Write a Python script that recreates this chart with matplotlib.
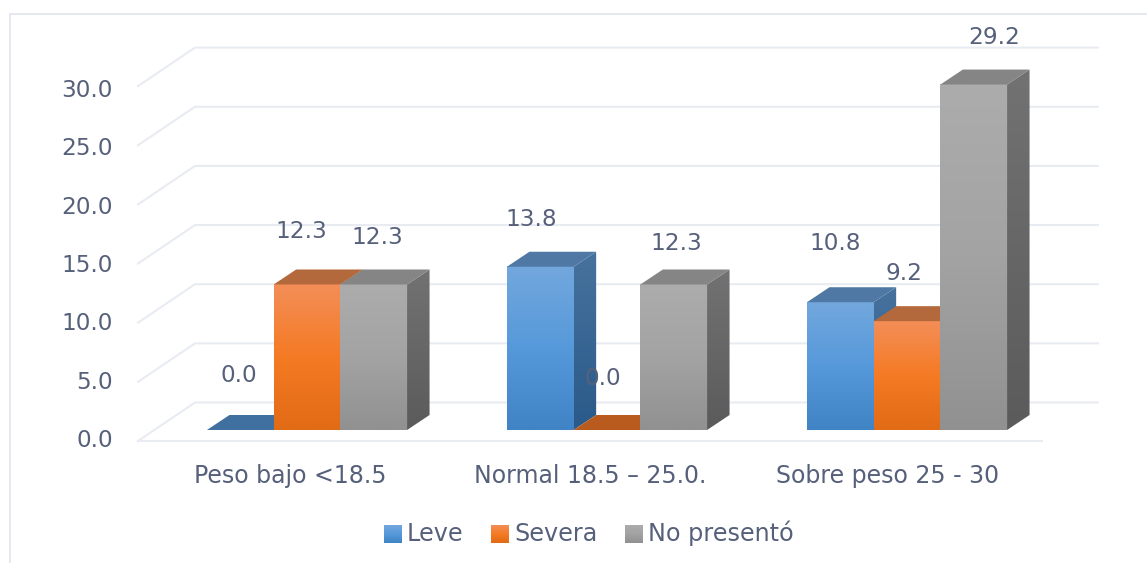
import numpy as np
import matplotlib
matplotlib.use('Agg')
import matplotlib.pyplot as plt
from matplotlib.colors import LinearSegmentedColormap
from matplotlib.patches import Polygon

plt.rcParams['font.family'] = ['DejaVu Sans']

categories = ['Peso bajo <18.5', 'Normal 18.5 – 25.0.', 'Sobre peso 25 - 30']
series_names = ['Leve', 'Severa', 'No presentó']
leve = [0.0, 13.8, 10.8]
severa = [12.3, 0.0, 9.2]
no_presento = [12.3, 12.3, 29.2]
y_ticks = [0, 5, 10, 15, 20, 25, 30]

# hand placed label offsets in pixels, one per bar
label_dx = [[-1, -9, -5], [-6, -4, -3], [4, 3, 20]]
label_dy = [[57, 50, 61], [55, 54, 50], [49, 43, 50]]

# front, side and top shades for each series
front_colors = [['#72a7dd', '#5699da', '#4184c6'],
                ['#f38e57', '#f57a24', '#e26b15'],
                ['#acacac', '#a3a3a3', '#919191']]
side_colors = [['#47729e', '#2a5a89'], ['#b3693d', '#b3591c'], ['#727272', '#5b5b5b']]
top_colors = ['#4f79a4', '#b4693d', '#858585']
zero_colors = ['#3f709f', '#b95b1e', '#858585']

text_color = '#56607a'
grid_color = '#e8ecf2'
font_size = 16.7
category_size = 17
legend_size = 17.2

W, H = 1147, 563
PX_PER_VALUE = 11.83
PX_PER_GROUP = 300.0
BASE_Y = 430.0
FIRST_X = 307.0
bar_w = 66.7 / PX_PER_GROUP
depth_x = 22.5 / PX_PER_GROUP
depth_y = 15.0 / PX_PER_VALUE


def xpx(p):
    return (p - FIRST_X) / PX_PER_GROUP


def ypx(p):
    return (BASE_Y - p) / PX_PER_VALUE


def gradient(colors):
    cmap = LinearSegmentedColormap.from_list('g', colors)
    return cmap(np.linspace(0, 1, 64)).reshape(64, 1, 4)


fig = plt.figure(figsize=(W / 100, H / 100), dpi=100)
ax = fig.add_axes([0, 0, 1, 1])
ax.set_axis_off()
ax.set_autoscale_on(False)
ax.set_xlim(xpx(0), xpx(W))
ax.set_ylim(ypx(H), ypx(0))

# outer frame
ax.plot([xpx(10), xpx(10)], [ypx(14), ypx(H)], color='#e3e7ee', lw=1.3, zorder=1)
ax.plot([xpx(10), xpx(W)], [ypx(14), ypx(14)], color='#e3e7ee', lw=1.3, zorder=1)

# back wall lines with the short diagonal on the left
back = ypx(402.5)
front = ypx(441)
for t in y_ticks:
    ax.plot([xpx(138), xpx(195), xpx(1098)], [t + front, t + back, t + back],
            color=grid_color, lw=1.5, zorder=1, solid_joinstyle='miter')
    # tick labels sit a touch tighter than the gridlines
    ax.text(xpx(113), t * 0.986 + ypx(438), f'{t:.1f}', ha='right', va='center_baseline',
            color=text_color, fontsize=font_size)
ax.plot([xpx(138), xpx(1042)], [front, front], color=grid_color, lw=1.5, zorder=1)

# bars, left to right so each one covers the side of the previous
series = [leve, severa, no_presento]
z = 2
for g in range(len(categories)):
    for s, vals in enumerate(series):
        v = vals[g]
        x0 = g + (s - 1.5) * bar_w
        x1 = x0 + bar_w
        if v > 0:
            ax.imshow(gradient(front_colors[s]), extent=(x0, x1, 0, v), origin='upper',
                      aspect='auto', zorder=z, interpolation='bilinear')
            side = Polygon([(x1, 0), (x1 + depth_x, depth_y), (x1 + depth_x, v + depth_y), (x1, v)],
                           transform=ax.transData, facecolor='none', edgecolor='none')
            ax.add_patch(side)
            im = ax.imshow(gradient(side_colors[s]), extent=(x1, x1 + depth_x, 0, v + depth_y),
                           origin='upper', aspect='auto', zorder=z, interpolation='bilinear')
            im.set_clip_path(side)
            top_color = top_colors[s]
        else:
            top_color = zero_colors[s]
        ax.add_patch(Polygon([(x0, v), (x1, v), (x1 + depth_x, v + depth_y), (x0 + depth_x, v + depth_y)],
                             facecolor=top_color, edgecolor='none', zorder=z))
        z += 1

# value labels
for s, vals in enumerate(series):
    for g, v in enumerate(vals):
        cx = g + (s - 1) * bar_w
        ax.annotate(f'{v:.1f}', xy=(cx, v), xytext=(label_dx[s][g], label_dy[s][g]),
                    textcoords='offset pixels', ha='center', va='center_baseline',
                    color=text_color, fontsize=font_size, zorder=50)

# category labels
category_x = [290, 590, 888]
for g, name in enumerate(categories):
    ax.text(xpx(category_x[g]), ypx(483), name, ha='center', va='baseline',
            color=text_color, fontsize=category_size, zorder=50)

# legend drawn by hand so the swatches keep the gradient
legend_swatch_x = [384, 491, 625]
for s, name in enumerate(series_names):
    sx = legend_swatch_x[s]
    ax.imshow(gradient(front_colors[s]), extent=(xpx(sx), xpx(sx + 18), ypx(543), ypx(525)),
              origin='upper', aspect='auto', zorder=50, interpolation='bilinear')
    ax.text(xpx(sx + 23), ypx(541), name, ha='left', va='baseline',
            color=text_color, fontsize=legend_size, zorder=50)

ax.set_xlim(xpx(0), xpx(W))
ax.set_ylim(ypx(H), ypx(0))
fig.savefig('out.png', dpi=100)
